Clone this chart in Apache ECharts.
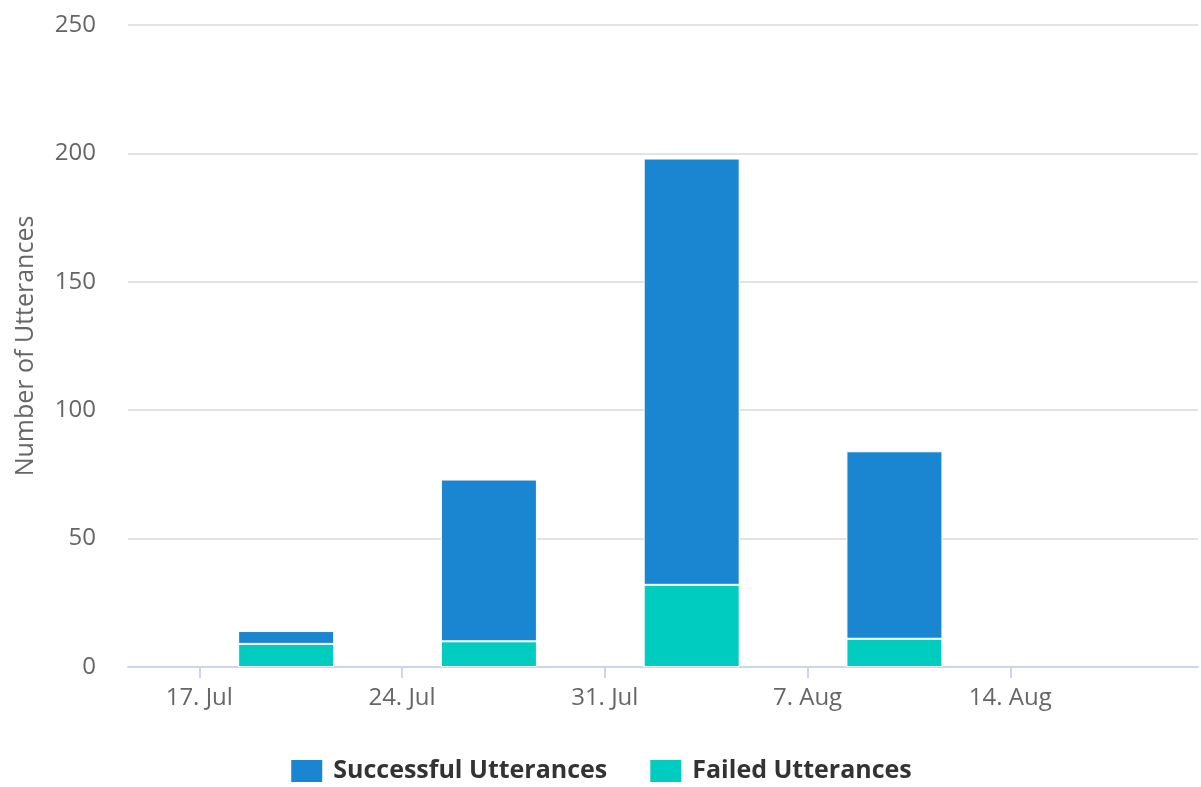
<!DOCTYPE html>
<html>
<head>
<meta charset="utf-8">
<script src="https://cdn.jsdelivr.net/npm/echarts@6/dist/echarts.min.js"></script>
<style>html,body{margin:0;padding:0;background:#fff}#c{width:1201px;height:787px}</style>
</head>
<body>
<div id="c"></div>
<script>
// x positions as day numbers counted from 1 Jul (Jul d = d, Aug d = 31 + d)
const weekDays = [20, 27, 34, 41];
const successful = [5, 63, 166, 73];
const failed = [9, 10, 32, 11];
const tickDays = [17, 24, 31, 38, 45];
const tickLabels = ['17. Jul', '24. Jul', '31. Jul', '7. Aug', '14. Aug'];
const yTicks = [0, 50, 100, 150, 200, 250];

const chart = echarts.init(document.getElementById('c'));
const font = '"Open Sans", "Noto Sans", sans-serif';
chart.setOption({
  animation: false,
  grid: { left: 128, right: 3, top: 25, bottom: 120 },
  legend: {
    data: ['Successful Utterances', 'Failed Utterances'],
    bottom: 3,
    left: 'center',
    padding: 0,
    icon: 'rect',
    itemWidth: 33,
    itemHeight: 24,
    itemGap: 41,
    textStyle: { fontFamily: font, fontSize: 25, fontWeight: 'bold', color: '#333', padding: [0, 0, 0, 5] }
  },
  xAxis: {
    type: 'value',
    min: 14.54,
    max: 51.48,
    axisLine: { lineStyle: { color: '#ccd6eb', width: 2 } },
    axisTick: { show: true, length: 11, customValues: tickDays, lineStyle: { color: '#ccd6eb', width: 2 } },
    splitLine: { show: false },
    axisLabel: {
      customValues: tickDays,
      margin: 19,
      color: '#666',
      fontFamily: font,
      fontSize: 24,
      formatter: function (v) { const i = tickDays.indexOf(v); return i >= 0 ? tickLabels[i] : ''; }
    }
  },
  yAxis: {
    type: 'value',
    min: yTicks[0],
    max: yTicks[yTicks.length - 1],
    interval: 50,
    name: 'Number of Utterances',
    nameLocation: 'middle',
    nameGap: 90,
    nameTextStyle: { color: '#666', fontFamily: font, fontSize: 25 },
    axisLine: { show: false },
    axisTick: { show: false },
    splitLine: { lineStyle: { color: '#dadada', width: 1.5 } },
    axisLabel: { margin: 32, color: '#666', fontFamily: font, fontSize: 24 }
  },
  series: [
    {
      name: 'Failed Utterances',
      type: 'bar',
      stack: 'u',
      barWidth: 96,
      encode: { x: 1, y: 0 },
      itemStyle: { color: '#00ccc0', borderColor: '#fff', borderWidth: 1 },
      data: weekDays.map((d, i) => [failed[i], d])
    },
    {
      name: 'Successful Utterances',
      type: 'bar',
      stack: 'u',
      barWidth: 96,
      encode: { x: 1, y: 0 },
      itemStyle: { color: '#1a85d0', borderColor: '#fff', borderWidth: 1 },
      data: weekDays.map((d, i) => [successful[i], d])
    }
  ]
});
</script>
</body>
</html>
